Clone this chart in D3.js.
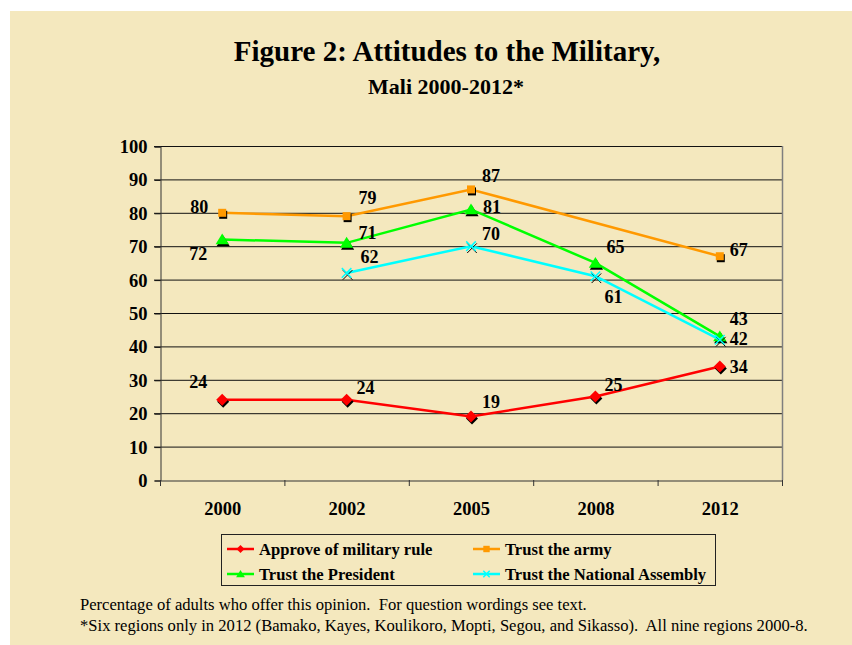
<!DOCTYPE html>
<html>
  <head>
    <meta charset="utf-8">
    <script src="https://d3js.org/d3.v7.min.js"></script>
    <style>
      body {
        margin: 0;
        background: white;
        font-family: "Liberation Serif", "Times New Roman", serif;
      }
    </style>
  </head>
  <body>
    <script>
        // chart values
        var years = ["2000", "2002", "2005", "2008", "2012"]
        var yTicks = [0, 10, 20, 30, 40, 50, 60, 70, 80, 90, 100]
        var seriesNames = ["Approve of military rule", "Trust the army", "Trust the President", "Trust the National Assembly"]
        var approveRule = [24, 24, 19, 25, 34]
        var trustArmy = [80, 79, 87, null, 67]
        var trustPresident = [72, 71, 81, 65, 43]
        var trustAssembly = [null, 62, 70, 61, 42]

        var width = 852, height = 645

        var colors = ["#ff0000", "#ff9900", "#00ff00", "#00ffff"]
        var shapes = ["diamond", "square", "triangle", "cross"]
        // where each value label sits relative to its point
        var labelOffsets = [
            [[-24,-18],[19,-12],[20,-15],[18,-12],[19,0]],
            [[-23,-6],[21,-18],[20,-14],null,[19,-7]],
            [[-24,14],[21,-10],[21,-3],[20,-16],[19,-18]],
            [null,[23,-16],[20,-13],[18,20],[19,-1]]
        ]

        var allSeries = [approveRule, trustArmy, trustPresident, trustAssembly]

        var svg = d3.select("body").append("svg")
            .attr("width", width)
            .attr("height", height)

        svg.append("rect")
            .attr("x", 10).attr("y", 11)
            .attr("width", width - 10).attr("height", height - 11)
            .attr("fill", "#f4e8be")

        // titles
        svg.append("text")
            .attr("x", 447).attr("y", 61)
            .attr("text-anchor", "middle")
            .attr("font-weight", "bold")
            .attr("font-size", 29)
            .text("Figure 2: Attitudes to the Military,")
        svg.append("text")
            .attr("x", 446).attr("y", 94)
            .attr("text-anchor", "middle")
            .attr("font-weight", "bold")
            .attr("font-size", 22)
            .text("Mali 2000-2012*")

        var x = d3.scaleBand().domain(years).range([160, 782])
        var y = d3.scaleLinear().domain([0, 100]).range([480, 146])
        var cx = function(i){ return x(years[i]) + x.bandwidth() / 2 }

        // gridlines
        svg.append("g").selectAll("line").data(yTicks.slice(1))
            .enter().append("line")
            .attr("x1", 154).attr("x2", 782)
            .attr("y1", function(d){ return y(d) + 0.5 })
            .attr("y2", function(d){ return y(d) + 0.5 })
            .attr("stroke", "#111")
            .attr("stroke-width", 1)

        svg.append("line")
            .attr("x1", 782.5).attr("x2", 782.5)
            .attr("y1", y(100)).attr("y2", y(0))
            .attr("stroke", "#7f7f7f").attr("stroke-width", 1.5)

        // axes
        var yAxis = svg.append("g")
            .attr("transform", "translate(160.5,0.5)")
            .call(d3.axisLeft(y).tickValues(yTicks).tickSize(6).tickPadding(7))
        var xAxis = svg.append("g")
            .attr("transform", "translate(0.5,480.5)")
            .call(d3.axisBottom(x).tickSize(0).tickPadding(21))
        svg.append("g").selectAll("line").data(d3.range(years.length + 1))
            .enter().append("line")
            .attr("x1", function(i){ return 160.5 + i * x.bandwidth() })
            .attr("x2", function(i){ return 160.5 + i * x.bandwidth() })
            .attr("y1", 480).attr("y2", 486)
            .attr("stroke", "#333")

        ;[yAxis, xAxis].forEach(function(ax){
            ax.select(".domain").attr("stroke", "#333")
            ax.selectAll(".tick line").attr("stroke", "#111")
            ax.selectAll("text")
                .attr("font-family", "Liberation Serif")
                .attr("font-weight", "bold")
                .attr("font-size", 18.5)
                .attr("fill", "black")
        })

        function markerPath(shape, s){
            switch(shape){
                case "diamond":
                    return "M0," + (-s) + "L" + s + ",0L0," + s + "L" + (-s) + ",0Z"
                case "square":
                    return "M" + (-s*0.8) + "," + (-s*0.8) + "h" + (s*1.6) + "v" + (s*1.6) + "h" + (-s*1.6) + "Z"
                case "triangle":
                    return "M0," + (-s) + "L" + (s*1.1) + "," + (s*0.8) + "L" + (-s*1.1) + "," + (s*0.8) + "Z"
                case "cross":
                    return "M" + (-s*0.8) + "," + (-s*0.8) + "L" + (s*0.8) + "," + (s*0.8) + "M" + (s*0.8) + "," + (-s*0.8) + "L" + (-s*0.8) + "," + (s*0.8)
            }
        }

        var line = d3.line()
            .x(function(d){ return cx(d.i) })
            .y(function(d){ return y(d.v) })

        var plot = svg.append("g")

        allSeries.forEach(function(vals, k){
            var pts = vals.map(function(v, i){ return {v: v, i: i} })
                .filter(function(d){ return d.v != null })

            plot.append("path")
                .attr("d", line(pts))
                .attr("fill", "none")
                .attr("stroke", colors[k])
                .attr("stroke-width", 2.5)

            var m = plot.selectAll(".m" + k).data(pts).enter().append("g")
                .attr("transform", function(d){ return "translate(" + cx(d.i) + "," + y(d.v) + ")" })
            var s = shapes[k] == "square" ? 5 : 6
            // dark drop shadow under each marker
            m.append("path")
                .attr("transform", "translate(1,2)")
                .attr("d", markerPath(shapes[k], s))
                .attr("fill", shapes[k] == "cross" ? "none" : "black")
                .attr("stroke", "black")
                .attr("stroke-width", shapes[k] == "cross" ? 1 : 0)
            m.append("path")
                .attr("d", markerPath(shapes[k], s))
                .attr("fill", shapes[k] == "cross" ? "none" : colors[k])
                .attr("stroke", colors[k])
                .attr("stroke-width", shapes[k] == "cross" ? 1.5 : 0)
        })

        // value labels
        allSeries.forEach(function(vals, k){
            vals.forEach(function(v, i){
                if (v == null) return
                var off = labelOffsets[k][i]
                svg.append("text")
                    .attr("x", cx(i) + off[0])
                    .attr("y", y(v) + off[1])
                    .attr("dy", "0.35em")
                    .attr("text-anchor", "middle")
                    .attr("font-weight", "bold")
                    .attr("font-size", 18)
                    .text(v)
            })
        })

        // legend
        var legend = svg.append("g")
        legend.append("rect")
            .attr("x", 221.5).attr("y", 534.5)
            .attr("width", 494).attr("height", 51)
            .attr("fill", "none")
            .attr("stroke", "#222")
        var legItems = legend.selectAll(".item").data(seriesNames).enter().append("g")
            .attr("transform", function(d, k){
                return "translate(" + (k % 2 == 0 ? 227 : 473) + "," + (k < 2 ? 549 : 574) + ")" })
        legItems.append("line")
            .attr("x1", 0).attr("x2", 27)
            .attr("stroke", function(d, k){ return colors[k] })
            .attr("stroke-width", 2.5)
        legItems.append("path")
            .attr("transform", "translate(13.5,0)")
            .attr("d", function(d, k){ return markerPath(shapes[k], 4) })
            .attr("fill", function(d, k){ return shapes[k] == "cross" ? "none" : colors[k] })
            .attr("stroke", function(d, k){ return colors[k] })
            .attr("stroke-width", function(d, k){ return shapes[k] == "cross" ? 1.5 : 0 })
        legItems.append("text")
            .attr("x", 32)
            .attr("dy", "0.35em")
            .attr("font-weight", "bold")
            .attr("font-size", 16.6)
            .text(function(d){ return d })

        // notes
        var notes = ["Percentage of adults who offer this opinion.  For question wordings see text.",
            "*Six regions only in 2012 (Bamako, Kayes, Koulikoro, Mopti, Segou, and Sikasso).  All nine regions 2000-8."]
        svg.selectAll(".note").data(notes).enter().append("text")
            .attr("x", 80)
            .attr("y", function(d, i){ return 610 + i * 21 })
            .attr("font-size", 16.6)
            .attr("xml:space", "preserve")
            .style("white-space", "pre")
            .text(function(d){ return d })
    </script>
  </body>
</html>
